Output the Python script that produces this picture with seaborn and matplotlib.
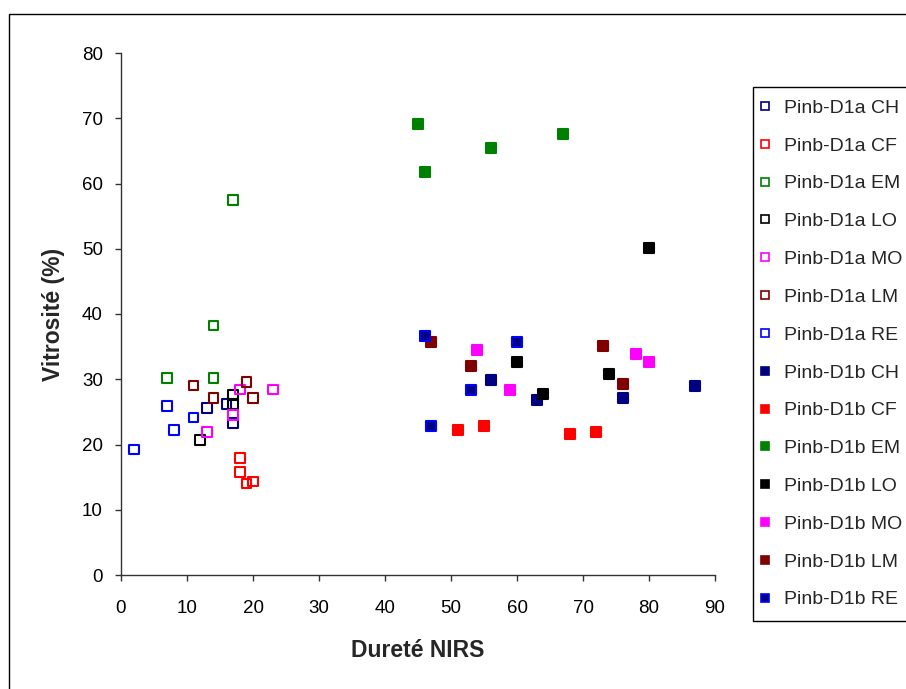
import matplotlib
matplotlib.use("Agg")
import matplotlib.pyplot as plt
from matplotlib.lines import Line2D
from matplotlib.patches import Rectangle
import seaborn as sns
import pandas as pd

# ---- data ----
series_names = ["Pinb-D1a CH", "Pinb-D1a CF", "Pinb-D1a EM", "Pinb-D1a LO",
                "Pinb-D1a MO", "Pinb-D1a LM", "Pinb-D1a RE",
                "Pinb-D1b CH", "Pinb-D1b CF", "Pinb-D1b EM", "Pinb-D1b LO",
                "Pinb-D1b MO", "Pinb-D1b LM", "Pinb-D1b RE"]

d1a_ch_x = [13, 16, 17];            d1a_ch_y = [25.6, 26.2, 23.3]
d1a_cf_x = [18, 18, 19, 20];        d1a_cf_y = [17.9, 15.8, 14.0, 14.3]
d1a_em_x = [17, 14, 7, 14];         d1a_em_y = [57.5, 38.2, 30.2, 30.2]
d1a_lo_x = [17, 17, 12];            d1a_lo_y = [27.6, 26.2, 20.7]
d1a_mo_x = [18, 23, 17, 13];        d1a_mo_y = [28.4, 28.4, 24.5, 21.9]
d1a_lm_x = [11, 19, 14, 20];        d1a_lm_y = [29.0, 29.6, 27.1, 27.1]
d1a_re_x = [7, 11, 8, 2];           d1a_re_y = [25.9, 24.1, 22.2, 19.2]

d1b_ch_x = [56, 63, 76, 87];        d1b_ch_y = [29.9, 26.8, 27.1, 29.0]
d1b_cf_x = [51, 55, 68, 72];        d1b_cf_y = [22.2, 22.8, 21.6, 21.9]
d1b_em_x = [45, 46, 56, 67];        d1b_em_y = [69.1, 61.8, 65.4, 67.6]
d1b_lo_x = [80, 60, 74, 64];        d1b_lo_y = [50.1, 32.6, 30.8, 27.7]
d1b_mo_x = [54, 59, 78, 80];        d1b_mo_y = [34.5, 28.4, 33.9, 32.6]
d1b_lm_x = [47, 53, 73, 76];        d1b_lm_y = [35.7, 32.0, 35.1, 29.3]
d1b_re_x = [46, 60, 53, 47];        d1b_re_y = [36.6, 35.7, 28.4, 22.8]

x_ticks = [0, 10, 20, 30, 40, 50, 60, 70, 80, 90]
y_ticks = [0, 10, 20, 30, 40, 50, 60, 70, 80]

xs = [d1a_ch_x, d1a_cf_x, d1a_em_x, d1a_lo_x, d1a_mo_x, d1a_lm_x, d1a_re_x,
      d1b_ch_x, d1b_cf_x, d1b_em_x, d1b_lo_x, d1b_mo_x, d1b_lm_x, d1b_re_x]
ys = [d1a_ch_y, d1a_cf_y, d1a_em_y, d1a_lo_y, d1a_mo_y, d1a_lm_y, d1a_re_y,
      d1b_ch_y, d1b_cf_y, d1b_em_y, d1b_lo_y, d1b_mo_y, d1b_lm_y, d1b_re_y]

# ---- styles ----
edge_colors = ["#000080", "#FF0000", "#008000", "#000000", "#FF00FF", "#800000", "#0000FF",
               "#000080", "#FF0000", "#008000", "#000000", "#FF00FF", "#800000", "#0000FF"]
face_colors = ["none"] * 7 + ["#000080", "#FF0000", "#008000", "#000000", "#FF00FF",
                              "#800000", "#000080"]

rows = []
for name, xv, yv in zip(series_names, xs, ys):
    for a, b in zip(xv, yv):
        rows.append({"series": name, "x": a, "y": b})
df = pd.DataFrame(rows)

sns.set_style("ticks")
plt.rcParams["font.family"] = ["Liberation Sans", "DejaVu Sans"]

fig = plt.figure(figsize=(9.06, 6.89), dpi=100)
ax = fig.add_axes([121 / 906, 1 - 575 / 689, (715 - 121) / 906, (575 - 53) / 689])

for name, ec, fc in zip(series_names, edge_colors, face_colors):
    sub = df[df["series"] == name]
    sns.scatterplot(data=sub, x="x", y="y", ax=ax, marker="s", s=46,
                    facecolor=fc, edgecolor=ec, linewidth=1.5, legend=False,
                    zorder=3)

ax.set_xlim(0, 90)
ax.set_ylim(0, 80)
ax.set_xticks(x_ticks)
ax.set_yticks(y_ticks)
ax.tick_params(axis="both", direction="out", length=4, width=1, colors="#333333",
               labelcolor="black", labelsize=13.5)
ax.tick_params(axis="x", pad=14)
ax.tick_params(axis="y", pad=9)
for side in ["top", "right"]:
    ax.spines[side].set_visible(False)
for side in ["left", "bottom"]:
    ax.spines[side].set_color("#333333")
    ax.spines[side].set_linewidth(1.0)

ax.set_xlabel("Dureté NIRS", fontsize=16.5, fontweight="bold")
ax.set_ylabel("Vitrosité (%)", fontsize=16.5, fontweight="bold")
ax.xaxis.set_label_coords(0.5, (575 - 639) / 522)
ax.yaxis.set_label_coords((65 - 121) / 594, 0.5)

handles = []
for name, ec, fc in zip(series_names, edge_colors, face_colors):
    handles.append(Line2D([], [], linestyle="none", marker="s", markersize=5.6,
                          markerfacecolor=fc, markeredgecolor=ec,
                          markeredgewidth=1.2, label=name))
leg = fig.legend(handles=handles, loc="upper left",
                 bbox_to_anchor=(753 / 906, 1 - 87 / 689),
                 frameon=True, fancybox=False, framealpha=1, edgecolor="black",
                 fontsize=14, borderpad=0.62, handlelength=0.0,
                 handletextpad=0.95, labelspacing=1.04, borderaxespad=0)
leg.get_frame().set_linewidth(1.0)

# outer chart border (right and bottom edges fall outside the picture)
fig.patches.append(Rectangle((9 / 906, -0.1), 1.2, (1 - 14 / 689) + 0.1,
                             transform=fig.transFigure, fill=False,
                             edgecolor="black", linewidth=1.0))

fig.savefig("out.png", dpi=100)
